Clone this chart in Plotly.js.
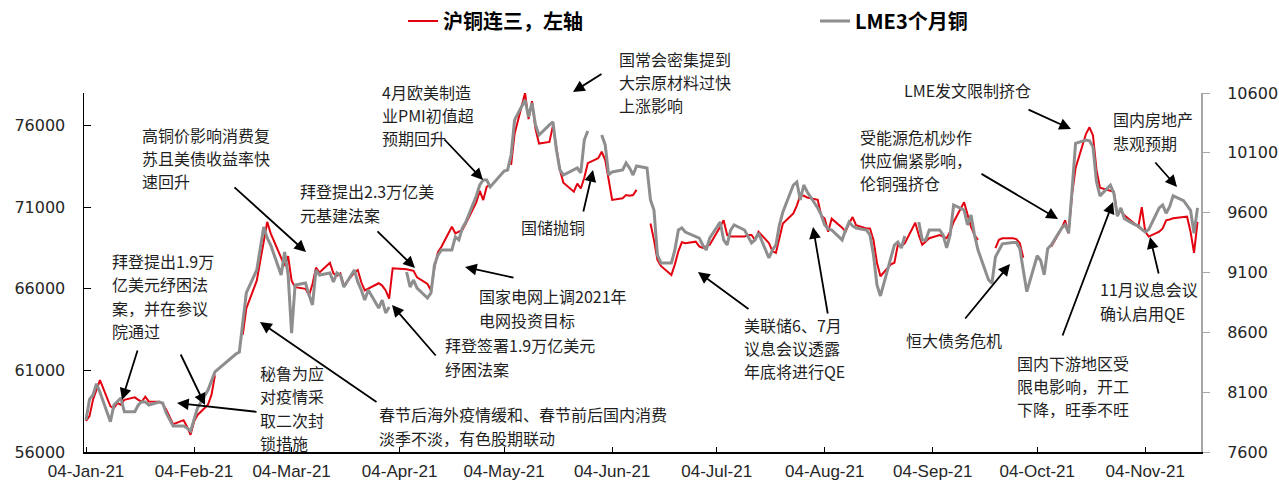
<!DOCTYPE html>
<html>
<head>
<meta charset="utf-8">
<script src="https://cdn.plot.ly/plotly-3.0.1.min.js"></script>
<style>html,body{margin:0;padding:0;background:#fff;}#chart{width:1279px;height:484px;}</style>
</head>
<body>
<div id="chart"></div>
<script>
// ---- data ----
const shfeName = '沪铜连三，左轴';
const lmeName = 'LME3个月铜';

const shfeDays = ['01-04','01-05','01-06','01-07','01-08','01-11','01-12','01-13','01-14','01-15','01-18','01-19','01-20','01-21','01-22','01-25','01-26','01-27','01-28','01-29',
'02-01','02-02','02-03','02-04','02-05','02-08','02-09','02-10','02-11','02-18','02-19','02-22','02-23','02-24','02-25','02-26',
'03-01','03-02','03-03','03-04','03-05','03-08','03-09','03-10','03-11','03-12','03-15','03-16','03-17','03-18','03-19','03-22','03-23','03-24','03-25','03-26','03-29','03-30','03-31',
'04-01','04-02','04-06','04-07','04-08','04-09','04-12','04-13','04-14','04-15','04-16','04-19','04-20','04-21','04-22','04-23','04-26','04-27','04-28','04-29','04-30',
'05-04','05-06','05-07','05-10','05-11','05-12','05-13','05-14','05-17','05-18','05-19','05-20','05-21','05-24','05-25','05-26','05-27','05-28','05-31',
'06-01','06-02','06-03','06-04','06-07','06-08','06-09','06-10','06-11','06-14','06-15','06-16','06-17','06-18','06-21','06-22','06-23','06-24','06-25','06-28','06-29','06-30',
'07-01','07-02','07-05','07-06','07-07','07-08','07-09','07-12','07-13','07-14','07-15','07-16','07-19','07-20','07-21','07-22','07-23','07-26','07-27','07-28','07-29','07-30',
'08-02','08-03','08-04','08-05','08-06','08-09','08-10','08-11','08-12','08-13','08-16','08-17','08-18','08-19','08-20','08-23','08-24','08-25','08-26','08-27','08-30','08-31',
'09-01','09-02','09-03','09-06','09-07','09-08','09-09','09-10','09-13','09-14','09-15','09-16','09-17','09-20','09-22','09-23','09-24','09-27','09-28','09-29','09-30',
'10-01','10-08','10-11','10-12','10-13','10-14','10-15','10-18','10-19','10-20','10-21','10-22','10-25','10-26','10-27','10-28','10-29',
'11-01','11-02','11-03','11-04','11-05','11-08','11-09','11-10','11-11','11-12','11-15','11-16','11-17','11-18','11-19'];
const shfeValues = [57900,58200,59200,59800,60400,58800,58700,59000,58900,59200,59350,59200,59080,59390,59100,59080,58950,58600,58100,57700,
57950,57550,57050,57860,58270,58900,59500,60700,null,63200,64800,66500,67600,68900,70100,69400,
67900,67400,68000,66500,66100,66000,65600,66300,67300,67000,67600,66950,66800,66950,66200,67000,67150,66400,65900,66000,66340,66200,65900,
65400,67260,67200,67150,67100,66700,66300,65900,67300,68250,68580,69800,69400,69500,69600,70000,71300,72000,71440,72260,72360,
null,73600,75500,78000,76400,77500,75800,74900,75000,76000,74500,73300,72500,71950,72450,72150,72800,73700,74000,
74400,73900,72700,71450,71550,71750,71700,71750,72060,null,70000,69000,67770,67400,66850,67500,68300,68850,68790,68890,68600,68500,
68600,68700,69800,70200,69300,69200,69200,69200,69300,69300,69000,69500,68800,68300,68200,69100,70000,70620,71100,71740,71700,71600,
71450,70500,70300,69500,70300,69750,69500,70000,70400,69900,69700,69700,69000,67600,66770,67500,67600,68700,68600,68800,70050,69300,
68700,68900,69100,69300,69200,69100,69500,70100,71300,70500,69800,69300,69000,null,68500,69000,69100,69100,69050,68800,67900,
null,68580,69700,70200,69400,71800,73400,75500,75900,75400,73300,72200,72000,71950,70500,70800,70500,
70000,69800,71000,69500,69200,69500,69700,70200,70250,70320,70400,70420,69500,68200,70100];

const lmeDays = ['01-04','01-05','01-06','01-07','01-08','01-11','01-12','01-13','01-14','01-15','01-18','01-19','01-20','01-21','01-22','01-25','01-26','01-27','01-28','01-29',
'02-01','02-02','02-03','02-04','02-05','02-08','02-09','02-10','02-11','02-12','02-15','02-16','02-17','02-18','02-19','02-22','02-23','02-24','02-25','02-26',
'03-01','03-02','03-03','03-04','03-05','03-08','03-09','03-10','03-11','03-12','03-15','03-16','03-17','03-18','03-19','03-22','03-23','03-24','03-25','03-26','03-29','03-30','03-31',
'04-01','04-02','04-06','04-07','04-08','04-09','04-12','04-13','04-14','04-15','04-16','04-19','04-20','04-21','04-22','04-23','04-26','04-27','04-28','04-29','04-30',
'05-04','05-05','05-06','05-07','05-10','05-11','05-12','05-13','05-14','05-17','05-18','05-19','05-20','05-21','05-24','05-25','05-26','05-27','05-28','05-31',
'06-01','06-02','06-03','06-04','06-07','06-08','06-09','06-10','06-11','06-14','06-15','06-16','06-17','06-18','06-21','06-22','06-23','06-24','06-25','06-28','06-29','06-30',
'07-01','07-02','07-05','07-06','07-07','07-08','07-09','07-12','07-13','07-14','07-15','07-16','07-19','07-20','07-21','07-22','07-23','07-26','07-27','07-28','07-29','07-30',
'08-02','08-03','08-04','08-05','08-06','08-09','08-10','08-11','08-12','08-13','08-16','08-17','08-18','08-19','08-20','08-23','08-24','08-25','08-26','08-27','08-30','08-31',
'09-01','09-02','09-03','09-06','09-07','09-08','09-09','09-10','09-13','09-14','09-15','09-16','09-17','09-20','09-21','09-22','09-23','09-24','09-27','09-28','09-29','09-30',
'10-01','10-04','10-05','10-06','10-07','10-08','10-11','10-12','10-13','10-14','10-15','10-18','10-19','10-20','10-21','10-22','10-25','10-26','10-27','10-28','10-29',
'11-01','11-02','11-03','11-04','11-05','11-08','11-09','11-10','11-11','11-12','11-15','11-16','11-17','11-18','11-19'];
const lmeValues = [7867,8040,8076,8170,8100,7853,7993,8018,8051,7937,7937,7993,8020,8018,7993,8018,8010,7926,7867,7817,
7817,7800,7775,7867,7968,8118,8202,8269,8294,8319,8402,8419,8436,8661,8929,9121,9288,9480,9388,9330,
9079,9271,9079,8594,8996,9012,8912,8829,9121,9079,9096,9021,9096,9079,8979,9121,9021,8954,8870,8954,8803,8870,8762,
8812,null,9104,8979,9037,8970,8887,8929,9163,9246,9288,9288,9397,9372,9472,9522,9739,9831,9873,9873,9815,
9948,9957,10082,10375,10542,10400,10517,10333,10249,10333,10358,10124,9957,9915,9957,9973,9932,10207,10283,null,
10249,10166,9915,9940,9957,10015,9973,9915,9990,9973,9706,9622,9246,9180,9180,9288,9455,9472,9438,9405,9388,9330,
9288,9388,9522,9372,9330,9455,9497,9455,9405,9347,9372,9430,9221,9288,9330,9497,9606,9831,9856,9706,9831,9773,
9639,9581,9497,9464,9455,9372,9455,9522,9489,9472,9455,9413,9246,8996,8904,9221,9330,9355,9305,9405,null,9522,
9372,9372,9455,9455,9413,9305,9413,9664,9622,9497,9581,9413,9288,9040,9010,9230,9280,9340,9350,9350,9300,9100,
8940,9240,9200,9080,9300,9330,9470,9500,9430,9790,10180,10207,10200,10150,9860,9740,9830,9760,9570,9640,9550,
9500,9490,9460,9440,9460,9640,9664,9595,9650,9740,9700,9660,9620,9427,9640];

const tickDates = ['2021-01-04','2021-02-04','2021-03-04','2021-04-04','2021-05-04','2021-06-04','2021-07-04','2021-08-04','2021-09-04','2021-10-04','2021-11-04'];
const tickLabels = ['04-Jan-21','04-Feb-21','04-Mar-21','04-Apr-21','04-May-21','04-Jun-21','04-Jul-21','04-Aug-21','04-Sep-21','04-Oct-21','04-Nov-21'];

// ---- notes (text lines, left px, reference block centre px, arrows tail->head px) ----
const notes = [
  {lines:['高铜价影响消费复','苏且美债收益率快','速回升'], x:140, y:158, arrows:[[233,186,306,252]]},
  {lines:['拜登提出1.9万','亿美元纾困法','案，并在参议','院通过'], x:110, y:296, arrows:[[138,349,122,400],[180,353,205,405]]},
  {lines:['秘鲁为应','对疫情采','取二次封','锁措施'], x:258, y:408, arrows:[[258,412,177,403]]},
  {lines:['春节后海外疫情缓和、春节前后国内消费','淡季不淡，有色股期联动'], x:377, y:426, arrows:[[378,403,260,322]]},
  {lines:['拜登提出2.3万亿美','元基建法案'], x:298, y:203, arrows:[[376,230,415,268]]},
  {lines:['4月欧美制造','业PMI初值超','预期回升'], x:380, y:115, arrows:[[443,138,483,180]]},
  {lines:['国常会密集提到','大宗原材料过快','上涨影响'], x:617, y:82, arrows:[[603,73,573,92]]},
  {lines:['国储抛铜'], x:519, y:227, arrows:[[583,213,593,170]]},
  {lines:['国家电网上调2021年','电网投资目标'], x:477, y:308, arrows:[[515,278,465,267]]},
  {lines:['拜登签署1.9万亿美元','纾困法案'], x:443, y:357, arrows:[[437,357,392,305]]},
  {lines:['美联储6、7月','议息会议透露','年底将进行QE'], x:742, y:348, arrows:[[750,310,698,272],[828,315,813,227]]},
  {lines:['LME发文限制挤仓'], x:902, y:90, arrows:[[1027,109,1071,129]]},
  {lines:['受能源危机炒作','供应偏紧影响，','伦铜强挤仓'], x:858, y:160, arrows:[[980,173,1058,219]]},
  {lines:['国内房地产','悲观预期'], x:1111, y:131, arrows:[[1154,161,1177,187]]},
  {lines:['恒大债务危机'], x:904, y:340, arrows:[[964,320,1010,264]]},
  {lines:['国内下游地区受','限电影响，开工','下降，旺季不旺'], x:1015, y:386, arrows:[[1062,337,1113,202]]},
  {lines:['11月议息会议','确认启用QE'], x:1098, y:301, arrows:[[1159,275,1150,237]]}
];

// ---- layout helpers ----
const L = 84, R = 1201, T = 93, B = 452;
const px = x => (x - L) / (R - L);
const py = y => (B - y) / (B - T);
const noteSize = 16;
const noteFont = {family:'Noto Sans CJK SC, Noto Sans, sans-serif', size:noteSize, color:'#1f1f1f'};
const lineGap = noteSize * 1.46;

const annotations = [];
notes.forEach(n => {
  const y0 = n.y - (n.lines.length - 1) * lineGap / 2;
  n.lines.forEach((t, i) => {
    annotations.push({xref:'paper', yref:'paper', x:px(n.x), y:py(y0 + i * lineGap),
      xanchor:'left', yanchor:'middle', align:'left', text:t, showarrow:false, font:noteFont});
  });
  n.arrows.forEach(a => {
    annotations.push({xref:'paper', yref:'paper', x:px(a[2]), y:py(a[3]),
      axref:'pixel', ayref:'pixel', ax:a[0]-a[2], ay:a[1]-a[3], text:'',
      showarrow:true, arrowhead:2, arrowsize:1.3, arrowwidth:1.8, arrowcolor:'#000'});
  });
});

const traces = [
  {type:'scatter', mode:'lines', name:shfeName, x:shfeDays.map(d => '2021-' + d), y:shfeValues,
   connectgaps:false, line:{color:'#e3000f', width:2}},
  {type:'scatter', mode:'lines', name:lmeName, x:lmeDays.map(d => '2021-' + d), y:lmeValues,
   yaxis:'y2', connectgaps:false, line:{color:'#8e8e8e', width:3}}
];

const layout = {
  width:1279, height:484,
  margin:{l:L, r:1279-R, t:T, b:484-B, autoexpand:false},
  paper_bgcolor:'#fff', plot_bgcolor:'#fff',
  showlegend:true,
  legend:{orientation:'h', x:px(403), xanchor:'left', y:py(21), yanchor:'middle',
    entrywidth:367, entrywidthmode:'pixels',
    font:{family:'Noto Sans CJK SC, sans-serif', size:20, color:'#000', weight:'bold'}},
  xaxis:{type:'date', range:['2021-01-03 10:00','2021-11-20 00:00'], tickvals:tickDates, ticktext:tickLabels,
    ticks:'inside', ticklen:5, tickcolor:'#000', showline:true, linecolor:'#000', linewidth:1.5,
    showgrid:false, zeroline:false, ticklabelstandoff:3, automargin:false,
    tickfont:{family:'Liberation Sans, Arial, sans-serif', size:17, color:'#262626'}},
  yaxis:{range:[56000,78000], tick0:56000, dtick:5000, tickformat:'d', ticks:'inside', ticklen:7, tickcolor:'#000',
    showline:true, linecolor:'#000', linewidth:1.5, showgrid:false, zeroline:false, ticklabelstandoff:14, automargin:false,
    tickfont:{family:'DejaVu Sans, Verdana, sans-serif', size:16, color:'#262626'}},
  yaxis2:{overlaying:'y', side:'right', range:[7600,10600], tick0:7600, dtick:500, tickformat:'d', ticks:'outside', ticklen:7,
    tickcolor:'#a6a6a6', showline:true, linecolor:'#a6a6a6', linewidth:2, showgrid:false, zeroline:false,
    ticklabelstandoff:14, automargin:false,
    tickfont:{family:'DejaVu Sans, Verdana, sans-serif', size:16, color:'#262626'}},
  annotations:annotations
};

Plotly.newPlot('chart', traces, layout, {staticPlot:true, displayModeBar:false});
</script>
</body>
</html>
